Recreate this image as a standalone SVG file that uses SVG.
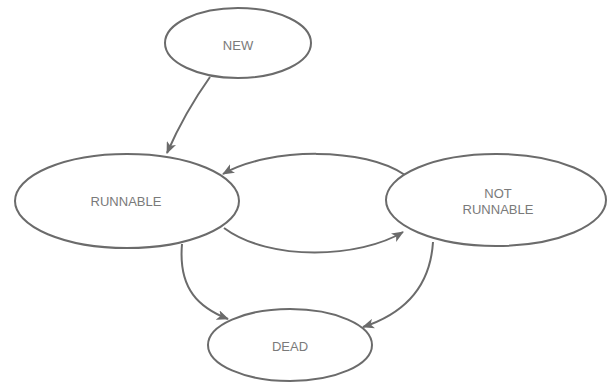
<svg xmlns="http://www.w3.org/2000/svg" width="608" height="383" viewBox="0 0 608 383">
<defs>
<style>
.node ellipse{fill:#fff;stroke:#6b6b6b;stroke-width:2}
.node text{font-family:"Liberation Sans",Arial,sans-serif;font-size:13px;fill:#7a7a7a;text-anchor:middle;dominant-baseline:central}
.edges path{fill:none;stroke:#6b6b6b;stroke-width:2;marker-end:url(#arr)}
</style>
<marker id="arr" viewBox="0 0 12 10" refX="11" refY="5" markerWidth="12" markerHeight="10" markerUnits="userSpaceOnUse" orient="auto">
<path d="M0,0 L12,5 L0,10 L3,5 z" fill="#6b6b6b"/>
</marker>
</defs>
<rect width="608" height="383" fill="#fff"/>
<g class="edges">
<path d="M210,77 Q185,112 167,153"/>
<path d="M405,175 C365,147 270,147 223,174"/>
<path d="M224,228 C270,262 360,258 403,232"/>
<path d="M182,244 C178,290 200,308 228,319"/>
<path d="M433,242 C430,290 400,315 363,327"/>
</g>
<g id="new" class="node"><ellipse cx="238" cy="43" rx="73" ry="35"/><text x="238" y="45">NEW</text></g>
<g id="runnable" class="node"><ellipse cx="127" cy="201" rx="112" ry="47"/><text x="126" y="201">RUNNABLE</text></g>
<g id="notrunnable" class="node"><ellipse cx="496" cy="200" rx="110" ry="46"/><text x="498" y="193">NOT</text><text x="498" y="209">RUNNABLE</text></g>
<g id="dead" class="node"><ellipse cx="290" cy="345" rx="82" ry="36"/><text x="290" y="346">DEAD</text></g>
</svg>
